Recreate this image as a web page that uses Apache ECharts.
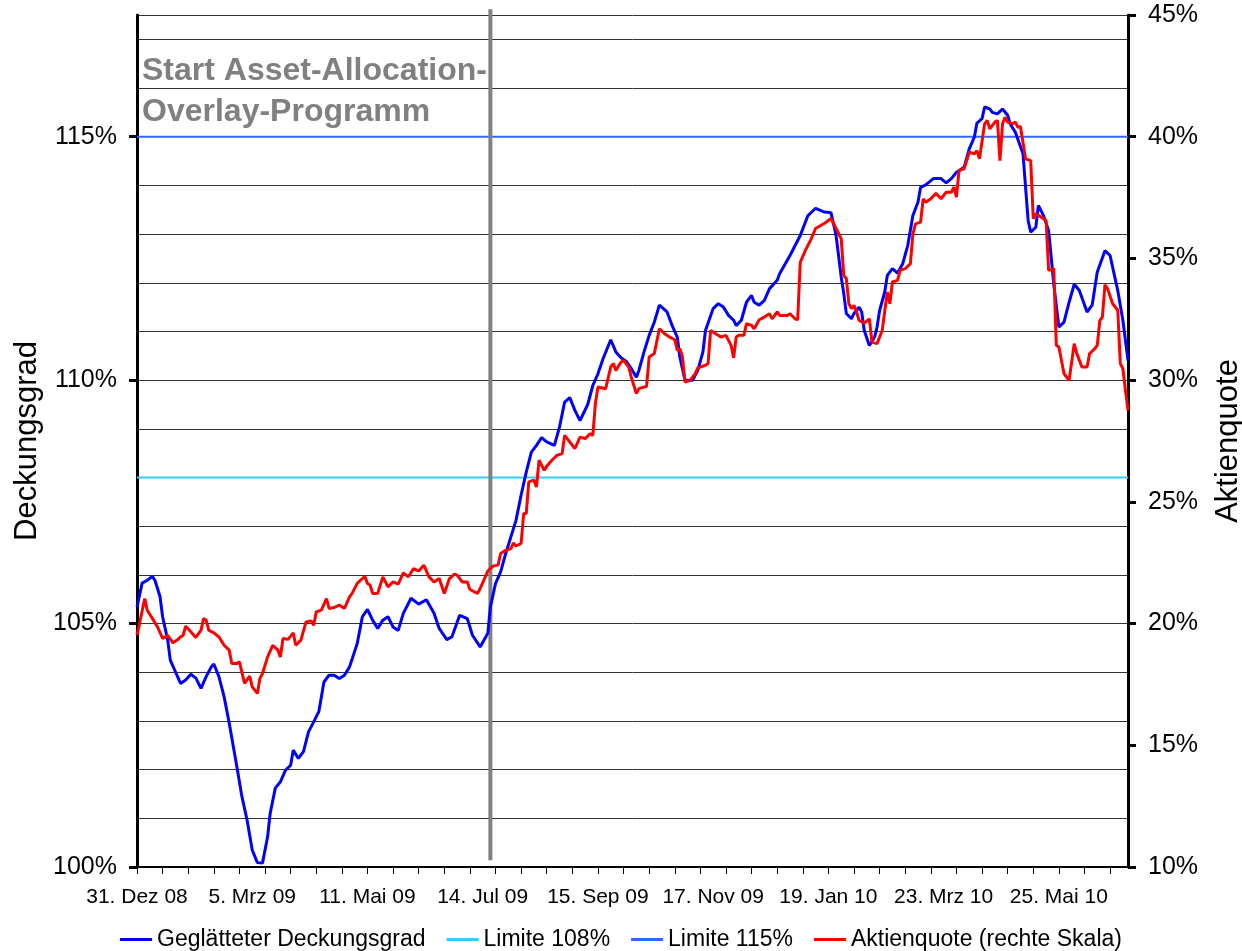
<!DOCTYPE html>
<html>
<head>
<meta charset="utf-8">
<script src="https://cdn.jsdelivr.net/npm/echarts@6/dist/echarts.min.js"></script>
<style>
  html, body { margin: 0; padding: 0; background: #fff; }
  #main { width: 1242px; height: 951px; }
</style>
</head>
<body>
<div id="main"></div>
<script>
// trading days since 31.12.2008, one category per day
var nDays = 388;
var dateLabels = ["31. Dez 08", "5. Mrz 09", "11. Mai 09", "14. Jul 09", "15. Sep 09",
  "17. Nov 09", "19. Jan 10", "23. Mrz 10", "25. Mai 10"];
var labelStep = 45;
var tickStep = 10;

// [trading day, Deckungsgrad in %]
var deckungsgrad = [
  [0,105.34],[2,105.83],[4,105.89],[6,105.97],[7,105.89],[9,105.55],[10,105.14],[12,104.66],
  [13,104.25],[15,104.01],[17,103.77],[19,103.84],[21,103.96],[23,103.88],[25,103.67],[27,103.91],
  [29,104.11],[30,104.17],[32,103.91],[34,103.50],[36,102.96],[39,102.06],[41,101.44],[43,100.96],
  [45,100.35],[47,100.09],[49,100.08],[51,100.62],[52,101.10],[54,101.62],[56,101.75],[58,101.99],
  [60,102.09],[61,102.40],[63,102.23],[65,102.37],[67,102.78],[69,102.98],[71,103.19],[73,103.80],
  [75,103.94],[77,103.94],[79,103.87],[81,103.94],[83,104.11],[86,104.59],[88,105.14],[90,105.29],
  [92,105.07],[94,104.90],[96,105.07],[98,105.14],[100,104.93],[102,104.86],[104,105.21],[107,105.52],
  [110,105.40],[113,105.49],[116,105.21],[118,104.90],[121,104.67],[123,104.73],[126,105.17],[129,105.10],
  [131,104.76],[134,104.52],[137,104.80],[138,105.34],[140,105.82],[142,106.06],[144,106.44],[146,106.78],
  [148,107.12],[150,107.64],[152,108.11],[154,108.52],[156,108.66],[158,108.82],[160,108.73],[163,108.66],
  [165,109.04],[167,109.55],[169,109.64],[171,109.38],[173,109.17],[176,109.50],[178,109.89],[180,110.13],
  [182,110.44],[185,110.83],[187,110.58],[189,110.46],[191,110.39],[193,110.24],[195,110.06],[196,110.20],
  [198,110.58],[200,110.92],[202,111.19],[204,111.54],[207,111.40],[209,111.12],[211,110.88],[212,110.47],
  [214,110.00],[217,110.00],[219,110.20],[221,110.58],[222,111.02],[225,111.47],[227,111.57],[229,111.50],
  [231,111.33],[233,111.23],[234,111.12],[236,111.23],[238,111.60],[240,111.74],[241,111.60],[243,111.54],
  [245,111.64],[247,111.88],[250,112.05],[251,112.19],[255,112.56],[259,112.97],[262,113.38],[265,113.53],
  [268,113.46],[271,113.44],[273,112.97],[275,112.12],[276,111.78],[277,111.37],[279,111.26],[280,111.37],
  [282,111.50],[283,111.40],[284,111.02],[286,110.71],[288,110.88],[289,111.09],[290,111.43],[292,111.81],
  [293,112.15],[295,112.29],[297,112.20],[299,112.39],[301,112.77],[303,113.38],[305,113.66],[306,113.96],
  [308,114.01],[311,114.14],[314,114.14],[316,114.05],[318,114.14],[320,114.27],[323,114.37],[325,114.75],
  [327,114.99],[328,115.28],[330,115.37],[331,115.61],[333,115.57],[334,115.50],[336,115.47],[338,115.57],
  [340,115.44],[341,115.26],[343,115.09],[346,114.65],[347,113.96],[348,113.28],[349,113.04],[351,113.14],
  [352,113.59],[354,113.38],[356,113.07],[358,111.98],[360,111.09],[362,111.19],[364,111.60],[366,111.97],
  [368,111.84],[371,111.40],[373,111.54],[375,112.22],[378,112.66],[380,112.56],[383,111.84],[385,111.23],
  [387,110.40]
];

// [trading day, Aktienquote in %] (rechte Skala)
var aktienquote = [
  [0,19.52],[1,20.00],[3,21.03],[4,20.55],[6,20.21],[8,19.86],[10,19.39],[11,19.45],[12,19.52],
  [14,19.21],[16,19.35],[17,19.45],[18,19.52],[19,19.89],[21,19.66],[23,19.43],[25,19.73],[26,20.21],
  [27,20.14],[28,19.73],[30,19.62],[32,19.45],[34,19.11],[36,18.91],[37,18.36],[39,18.36],[40,18.43],
  [42,17.54],[44,17.84],[45,17.40],[47,17.13],[48,17.75],[49,17.95],[51,18.63],[53,19.11],[55,18.91],
  [56,18.63],[57,19.39],[59,19.35],[61,19.62],[62,19.11],[64,19.32],[66,20.07],[68,20.11],[69,19.93],
  [70,20.48],[72,20.55],[74,21.03],[75,20.62],[77,20.66],[79,20.76],[81,20.62],[83,21.10],[84,21.24],
  [86,21.65],[88,21.85],[89,21.92],[90,21.65],[91,21.58],[92,21.24],[94,21.24],[96,21.92],[98,21.51],
  [100,21.71],[102,21.62],[104,22.08],[106,21.92],[108,22.26],[110,22.16],[112,22.40],[114,21.92],
  [116,21.71],[118,21.85],[120,21.24],[122,21.85],[124,22.03],[125,21.99],[127,21.71],[129,21.71],
  [130,21.40],[133,21.24],[134,21.44],[136,21.92],[137,22.16],[139,22.36],[141,22.40],[142,22.88],
  [144,23.01],[146,23.08],[147,23.31],[148,23.19],[150,23.29],[151,24.52],[152,24.52],[153,25.82],
  [155,25.89],[156,25.61],[157,26.71],[159,26.30],[160,26.46],[162,26.71],[164,26.91],[166,26.98],
  [167,27.73],[168,27.60],[171,27.19],[173,27.66],[175,27.60],[177,27.80],[178,27.73],[179,29.04],
  [180,29.72],[183,29.65],[185,30.54],[186,30.68],[187,30.40],[189,30.74],[190,30.81],[192,30.54],
  [193,30.13],[195,29.45],[196,29.65],[199,29.75],[200,30.95],[202,31.09],[204,32.11],[206,31.91],
  [208,31.77],[210,31.66],[211,31.22],[212,31.29],[213,30.95],[214,29.92],[216,29.99],[218,30.27],
  [219,30.51],[222,30.61],[223,30.68],[224,32.04],[226,31.91],[228,31.77],[230,31.84],[232,31.43],
  [233,30.92],[234,31.77],[235,31.84],[237,31.84],[238,32.32],[240,32.25],[241,32.11],[243,32.48],
  [245,32.59],[247,32.73],[248,32.52],[250,32.80],[251,32.66],[254,32.66],[255,32.73],[257,32.52],
  [258,32.48],[259,34.84],[261,35.33],[263,35.74],[265,36.23],[267,36.35],[269,36.48],[271,36.64],
  [273,36.23],[275,35.81],[276,34.30],[277,34.17],[278,33.14],[279,32.94],[280,33.07],[281,32.80],
  [282,32.45],[284,32.34],[286,32.52],[287,31.56],[289,31.50],[290,31.77],[291,32.04],[293,33.62],
  [294,33.14],[295,34.03],[297,34.10],[298,34.51],[300,34.58],[302,34.78],[303,36.01],[304,36.42],
  [306,36.49],[307,37.45],[308,37.31],[310,37.45],[312,37.68],[314,37.45],[316,37.72],[318,37.72],
  [319,37.93],[320,37.52],[321,38.61],[323,38.68],[324,39.02],[325,39.36],[327,39.30],[328,39.43],
  [329,39.09],[331,40.53],[332,40.67],[333,40.32],[335,40.60],[336,40.67],[337,39.02],[338,40.53],
  [339,40.80],[340,40.60],[342,40.53],[343,40.60],[344,40.39],[345,40.42],[347,39.09],[349,39.02],
  [350,36.63],[351,36.84],[352,36.77],[354,36.63],[355,36.56],[356,34.51],[358,34.58],[359,31.43],
  [360,31.36],[362,30.27],[363,30.13],[364,29.99],[366,31.50],[367,31.09],[369,30.54],[371,30.54],
  [372,31.09],[374,31.29],[375,31.43],[376,32.45],[377,32.59],[378,33.92],[379,33.76],[381,33.14],
  [383,32.87],[384,30.68],[385,30.47],[386,29.58],[387,28.76]
];

var limite108 = 108;
var limite115 = 115;
var startDay = 138; // Start Asset-Allocation-Overlay-Programm

var days = [];
for (var i = 0; i < nDays; i++) days.push(String(i));

var font = "Liberation Sans, Arial, sans-serif";
var chart = echarts.init(document.getElementById("main"));

var option = {
  animation: false,
  backgroundColor: "#fff",
  grid: { left: 137, right: 114, top: 15, bottom: 84, outerBoundsMode: "none" },
  legend: {
    top: 923,
    left: "center",
    icon: "rect",
    itemWidth: 32,
    itemHeight: 3,
    itemGap: 21,
    textStyle: { fontFamily: font, fontSize: 23, color: "#000" },
    data: ["Geglätteter Deckungsgrad", "Limite 108%", "Limite 115%", "Aktienquote (rechte Skala)"]
  },
  graphic: [
    {
      type: "text",
      left: 142,
      top: 51,
      style: {
        text: "Start Asset-Allocation-\nOverlay-Programm",
        fontFamily: font,
        fontWeight: "bold",
        fontSize: 32,
        lineHeight: 41,
        fill: "#808080"
      }
    }
  ],
  xAxis: {
    type: "category",
    data: days,
    boundaryGap: false,
    axisLine: { lineStyle: { color: "#000", width: 2 } },
    axisTick: { interval: tickStep - 1, length: 7, lineStyle: { color: "#000", width: 1 } },
    axisLabel: {
      interval: labelStep - 1,
      margin: 20,
      fontFamily: font,
      fontSize: 21,
      color: "#000",
      formatter: function (v, idx) {
        return dateLabels[idx / labelStep] || "";
      }
    },
    splitLine: { show: false }
  },
  yAxis: [
    {
      type: "value",
      position: "left",
      min: 100,
      max: 117.5,
      interval: 1,
      name: "Deckungsgrad",
      nameLocation: "middle",
      nameGap: 94,
      nameRotate: 90,
      nameTextStyle: { fontFamily: font, fontSize: 31, color: "#000" },
      axisLine: { show: true, lineStyle: { color: "#000", width: 3 } },
      axisTick: { show: false },
      axisLabel: { show: false },
      splitLine: { lineStyle: { color: "#333", width: 1 } }
    },
    {
      type: "value",
      position: "right",
      min: 10,
      max: 45,
      interval: 5,
      name: "Aktienquote",
      nameLocation: "middle",
      nameGap: 85,
      nameRotate: 90,
      nameTextStyle: { fontFamily: font, fontSize: 31, color: "#000" },
      axisLine: { show: true, lineStyle: { color: "#000", width: 3 } },
      axisTick: { show: true, length: 8, lineStyle: { color: "#000", width: 3 } },
      axisLabel: { margin: 20, fontFamily: font, fontSize: 25, color: "#000", formatter: "{value}%" },
      splitLine: { show: false }
    },
    {
      // labels/ticks of the left scale only every 5%
      type: "value",
      position: "left",
      min: 100,
      max: 117.5,
      interval: 5,
      axisLine: { show: false },
      axisTick: { show: true, length: 8, customValues: [100, 105, 110, 115], lineStyle: { color: "#000", width: 3 } },
      axisLabel: { margin: 20, fontFamily: font, fontSize: 25, color: "#000", formatter: "{value}%", customValues: [100, 105, 110, 115] },
      splitLine: { show: false }
    }
  ],
  series: [
    {
      name: "Limite 108%",
      type: "line",
      symbol: "none",
      data: [[0, limite108], [nDays - 1, limite108]],
      itemStyle: { color: "#33CCFF" },
      lineStyle: { color: "#33CCFF", width: 2 },
      z: 2
    },
    {
      name: "Limite 115%",
      type: "line",
      symbol: "none",
      data: [[0, limite115], [nDays - 1, limite115]],
      itemStyle: { color: "#3366FF" },
      lineStyle: { color: "#3366FF", width: 2 },
      z: 2
    },
    {
      name: "start",
      type: "line",
      symbol: "none",
      clip: false,
      data: [[startDay, 100.14], [startDay, 117.62]],
      lineStyle: { color: "#808080", width: 4 },
      z: 3
    },
    {
      name: "Geglätteter Deckungsgrad",
      type: "line",
      symbol: "none",
      data: deckungsgrad,
      itemStyle: { color: "#0000FF" },
      lineStyle: { color: "#0000FF", width: 3 },
      z: 4
    },
    {
      name: "Aktienquote (rechte Skala)",
      type: "line",
      yAxisIndex: 1,
      symbol: "none",
      data: aktienquote,
      itemStyle: { color: "#FF0000" },
      lineStyle: { color: "#FF0000", width: 3 },
      z: 5
    }
  ]
};

chart.setOption(option);
window.onresize = chart.resize;
</script>
</body>
</html>
